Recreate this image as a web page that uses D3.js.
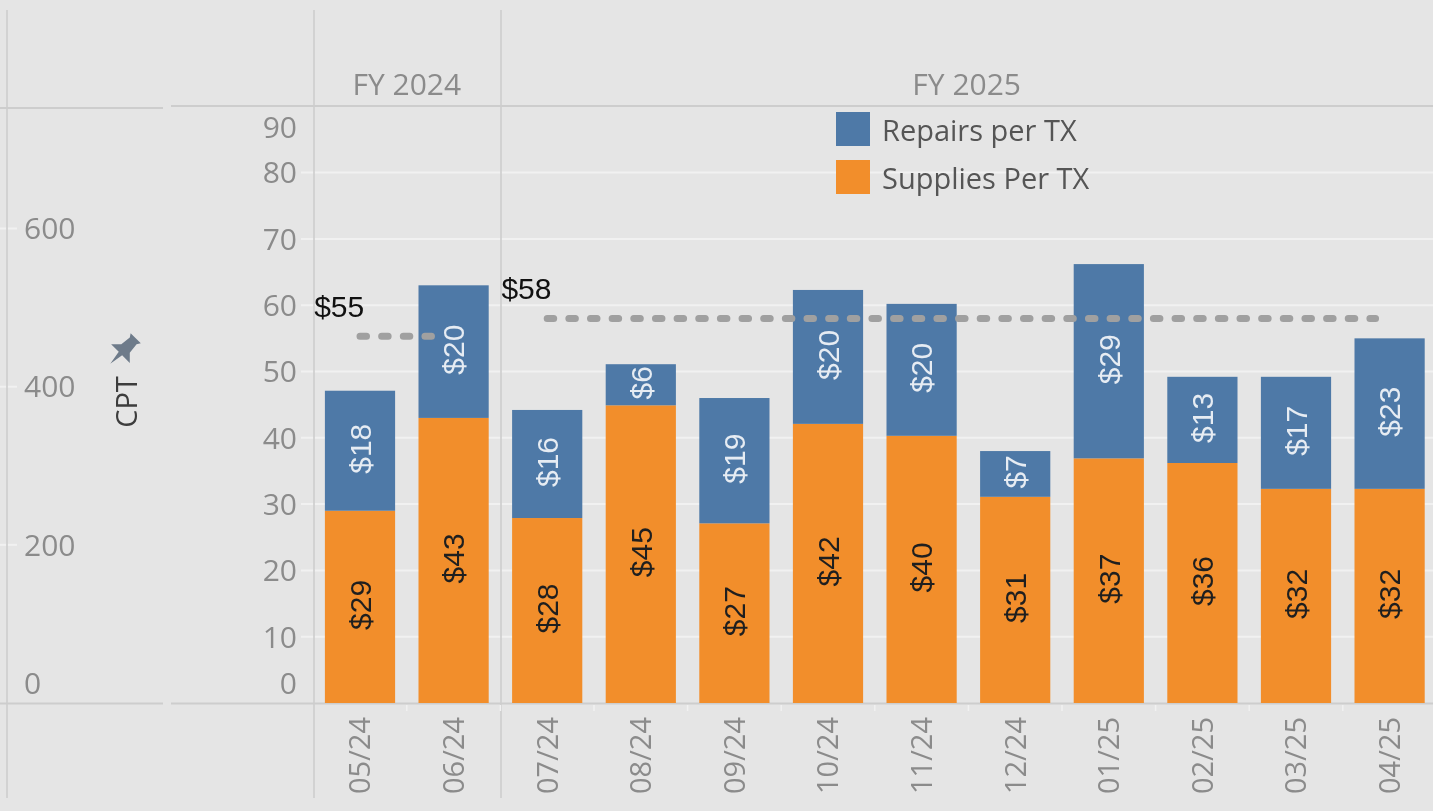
<!DOCTYPE html>
<html><head><meta charset="utf-8">
<script src="https://cdn.jsdelivr.net/npm/d3@7"></script>
<style>
html,body{margin:0;padding:0;background:#e5e5e5;overflow:hidden}
svg{display:block;filter:blur(0.6px)}
text{font-family:"Open Sans",sans-serif}
.num{font-family:"Liberation Sans",sans-serif}
</style></head><body>
<svg id="c" width="1433" height="811"></svg>
<script>
const months=["05/24","06/24","07/24","08/24","09/24","10/24","11/24","12/24","01/25","02/25","03/25","04/25"];
const supplies=[29,43,27.9,44.9,27.1,42.1,40.3,31.1,36.9,36.2,32.3,32.3];
const repairs=[18.1,20,16.3,6.2,18.9,20.2,19.9,6.9,29.3,13,16.9,22.7];
const yTicks=[0,10,20,30,40,50,60,70,80,90];
const cptTicks=[0,200,400,600];
const fiscalYears=[{name:"FY 2024",first:"05/24",last:"06/24",avg:55.3,label:"$55"},{name:"FY 2025",first:"07/24",last:"04/25",avg:58,label:"$58"}];
const seriesNames=["Repairs per TX","Supplies Per TX"];
const colors=["#4e79a7","#f28e2b"];

const svg=d3.select("#c");
const L=313.2,R=1436.4,Y0=703;
const x=d3.scaleBand().domain(months).range([L,R]).paddingInner(0.25).paddingOuter(0.125);
const y=d3.scaleLinear().domain([0,90]).range([Y0,Y0-90*6.63]);
const yc=d3.scaleLinear().domain([0,600]).range([Y0,228.5]);
const grey="#cdcdcd",tick="#8b8b8b",grid="#f1f1f1";

svg.append("g").selectAll("line").data(yTicks.filter(d=>d>0&&d<90)).join("line")
  .attr("x1",301).attr("x2",1433).attr("y1",d=>y(d)).attr("y2",d=>y(d)).attr("stroke",grid).attr("stroke-width",2);
svg.append("g").selectAll("line").data(cptTicks.filter(d=>d>0)).join("line")
  .attr("x1",0).attr("x2",17).attr("y1",d=>yc(d)).attr("y2",d=>yc(d)).attr("stroke",grid).attr("stroke-width",2);

const hl=[[0,163,108],[171,1433,106],[0,163,703.5],[171,1433,703.5]];
svg.append("g").selectAll("line").data(hl).join("line")
  .attr("x1",d=>d[0]).attr("x2",d=>d[1]).attr("y1",d=>d[2]).attr("y2",d=>d[2]).attr("stroke",grey).attr("stroke-width",2);
svg.append("g").selectAll("line").data([7,314,501]).join("line")
  .attr("x1",d=>d).attr("x2",d=>d).attr("y1",10).attr("y2",798).attr("stroke",grey).attr("stroke-width",1.6);

const g=svg.append("g");
g.selectAll("rect.s").data(months).join("rect").attr("class","s")
  .attr("x",d=>x(d)).attr("width",x.bandwidth())
  .attr("y",(d,i)=>y(supplies[i])).attr("height",(d,i)=>y(0)-y(supplies[i])).attr("fill",colors[1]);
g.selectAll("rect.r").data(months).join("rect").attr("class","r")
  .attr("x",d=>x(d)).attr("width",x.bandwidth())
  .attr("y",(d,i)=>y(supplies[i]+repairs[i])).attr("height",(d,i)=>y(supplies[i])-y(supplies[i]+repairs[i])).attr("fill",colors[0]);

function barLabel(cls,val,mid,fill){
  g.selectAll("text."+cls).data(months).join("text").attr("class",cls+" num")
    .attr("transform",(d,i)=>`translate(${x(d)+x.bandwidth()/2},${mid(i)-2}) rotate(-90)`)
    .attr("text-anchor","middle").attr("dy","0.36em").attr("font-size",30).attr("fill",fill)
    .text((d,i)=>"$"+Math.round(val[i]));
}
barLabel("ls",supplies,i=>y(supplies[i]/2),"#1f1f1f");
barLabel("lr",repairs,i=>y(supplies[i]+repairs[i]/2),"#e6ecf3");

fiscalYears.forEach(f=>{
  const x1=x(f.first)+x.bandwidth()/2, x2=x(f.last)+x.bandwidth()/2-x.step()*0.15;
  svg.append("line").attr("x1",x1).attr("x2",x2).attr("y1",y(f.avg)).attr("y2",y(f.avg))
    .attr("stroke","#a0a0a0").attr("stroke-width",7).attr("stroke-linecap","round")
    .attr("stroke-dasharray","6.5 15.15");
  svg.append("text").attr("class","num").attr("x",x(f.first)-x.step()*0.125+1).attr("y",y(f.avg)-19)
    .attr("font-size",30).attr("fill","#111").text(f.label);
  svg.append("text").attr("x",(x(f.first)-x.step()*0.125+Math.min(x(f.last)+x.bandwidth()+x.step()*0.125,1433))/2)
    .attr("y",95).attr("text-anchor","middle").attr("font-size",30).attr("fill",tick).text(f.name);
});

svg.append("g").selectAll("text").data(yTicks).join("text")
  .attr("x",297).attr("y",d=>d==0?y(0)-20:d==90?y(90)+21:y(d))
  .attr("dy","0.36em").attr("text-anchor","end").attr("font-size",30).attr("fill",tick).text(d=>d);
svg.append("g").selectAll("text").data(cptTicks).join("text")
  .attr("x",24).attr("y",d=>d==0?yc(0)-20:yc(d))
  .attr("dy","0.36em").attr("font-size",30).attr("fill",tick).text(d=>d);

svg.append("g").selectAll("text").data(months).join("text")
  .attr("transform",d=>`translate(${x(d)+x.bandwidth()/2},717) rotate(-90)`)
  .attr("text-anchor","end").attr("dy","0.36em").attr("font-size",29).attr("fill",tick).text(d=>d);
svg.append("g").selectAll("line").data(months.slice(1)).join("line")
  .attr("x1",d=>x(d)-x.step()*0.125).attr("x2",d=>x(d)-x.step()*0.125).attr("y1",705).attr("y2",711)
  .attr("stroke",grid).attr("stroke-width",1.5);

svg.append("text").attr("transform","translate(127,402) rotate(-90)").attr("text-anchor","middle")
  .attr("dy","0.36em").attr("font-size",29).attr("fill","#3d3d3d").text("CPT");
svg.append("path").attr("transform","translate(123,351) rotate(45) scale(1.2)")
  .attr("d","M-6,-15 L6,-15 L4,-12 L5,-3 L11,3 L2,3 L0,15 L-2,3 L-11,3 L-5,-3 L-4,-12 Z").attr("fill","#6e7b8a");

const lg=svg.append("g").selectAll("g").data(seriesNames).join("g");
lg.append("rect").attr("x",836).attr("y",(d,i)=>112+i*48).attr("width",34).attr("height",34).attr("fill",(d,i)=>colors[i]);
lg.append("text").attr("x",882).attr("y",(d,i)=>131+i*48).attr("dy","0.36em").attr("font-size",29).attr("fill","#555").text(d=>d);
</script></body></html>
